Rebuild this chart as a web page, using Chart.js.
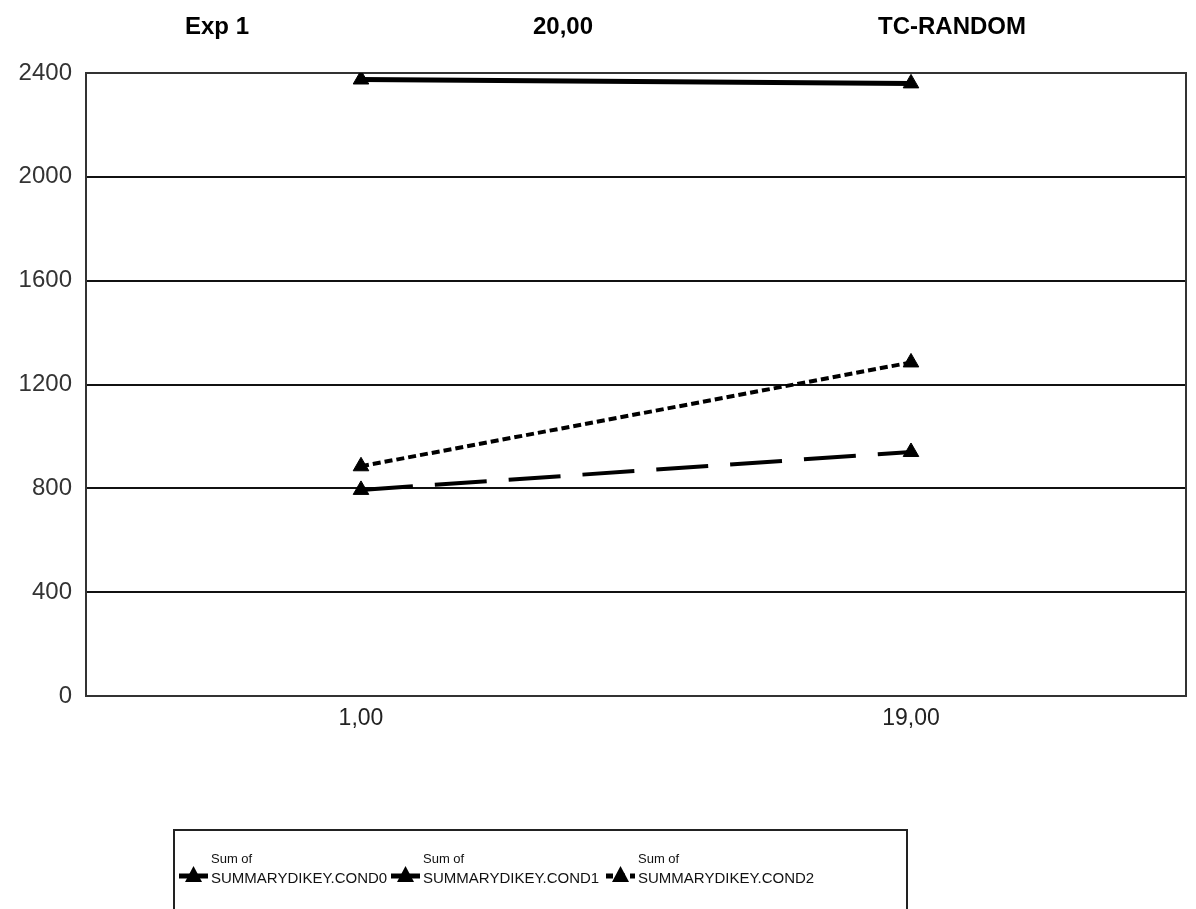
<!DOCTYPE html>
<html lang="en">
<head>
<meta charset="utf-8"/>
<title>Exp 1 - TC-RANDOM</title>
<script src="https://cdn.jsdelivr.net/npm/chart.js"></script>
<style>
  body {
    margin: 0;
    background: #fff;
  }
  canvas {
    display: block;
  }
</style>
</head>
<body>
<canvas id="grafico" width="1196" height="909"></canvas>

<script>
  // dados
  const categorias = ['1,00', '19,00'];
  const cond0 = [2375, 2360];
  const cond1 = [885, 1285];
  const cond2 = [794, 940];
  const nomes = ['SUMMARYDIKEY.COND0', 'SUMMARYDIKEY.COND1', 'SUMMARYDIKEY.COND2'];
  const titulos = ['Exp 1', '20,00', 'TC-RANDOM'];

  const fonte = "'Liberation Sans', Arial, sans-serif";

  // cabeçalho com os três textos em negrito
  const cabecalho = {
    id: 'cabecalho',
    afterDraw(chart) {
      const ctx = chart.ctx;
      const xs = [217, 563, 952];
      ctx.save();
      ctx.font = 'bold 24px ' + fonte;
      ctx.fillStyle = '#000';
      ctx.textAlign = 'center';
      ctx.textBaseline = 'alphabetic';
      titulos.forEach((t, i) => ctx.fillText(t, xs[i], 34));
      ctx.restore();
    }
  };

  // moldura em volta da área do gráfico
  const moldura = {
    id: 'moldura',
    beforeDatasetsDraw(chart) {
      const { ctx, chartArea: a } = chart;
      ctx.save();
      ctx.strokeStyle = '#333';
      ctx.lineWidth = 2;
      ctx.strokeRect(a.left, a.top, a.right - a.left, a.bottom - a.top);
      ctx.restore();
    }
  };

  // legenda desenhada à mão (rótulos em duas linhas)
  const legenda = {
    id: 'legenda',
    afterDraw(chart) {
      const ctx = chart.ctx;
      ctx.save();
      ctx.strokeStyle = '#222';
      ctx.lineWidth = 2;
      ctx.strokeRect(174, 830, 733, 100);

      const xs = [179, 391, 606];
      chart.data.datasets.forEach((ds, i) => {
        const x0 = xs[i];
        const y = 876;
        ctx.strokeStyle = '#000';
        ctx.lineWidth = 5;
        ctx.setLineDash(i === 2 ? [7, 5] : []);
        ctx.beginPath();
        ctx.moveTo(x0, y);
        ctx.lineTo(x0 + 29, y);
        ctx.stroke();
        ctx.setLineDash([]);

        // triângulo
        ctx.fillStyle = '#000';
        ctx.beginPath();
        ctx.moveTo(x0 + 14.5, y - 10);
        ctx.lineTo(x0 + 23, y + 6);
        ctx.lineTo(x0 + 6, y + 6);
        ctx.closePath();
        ctx.fill();

        ctx.fillStyle = '#111';
        ctx.textAlign = 'left';
        ctx.textBaseline = 'alphabetic';
        ctx.font = '13px ' + fonte;
        ctx.fillText('Sum of', x0 + 32, 863);
        ctx.font = '15px ' + fonte;
        ctx.fillText(ds.label, x0 + 32, 883);
      });
      ctx.restore();
    }
  };

  const base = {
    borderColor: '#000',
    backgroundColor: '#000',
    pointStyle: 'triangle',
    pointRadius: 9,
    pointHoverRadius: 9,
    pointBorderWidth: 1,
    tension: 0,
    fill: false
  };

  new Chart(document.getElementById('grafico'), {
    type: 'line',
    data: {
      labels: categorias,
      datasets: [
        { ...base, label: nomes[0], data: cond0, borderWidth: 5 },
        { ...base, label: nomes[1], data: cond1, borderWidth: 4, borderDash: [8, 4] },
        { ...base, label: nomes[2], data: cond2, borderWidth: 4, borderDash: [52, 22] }
      ]
    },
    options: {
      responsive: false,
      animation: false,
      layout: { padding: { top: 73, left: 0, right: 2, bottom: 0 } },
      plugins: {
        legend: { display: false },
        tooltip: { enabled: false }
      },
      scales: {
        x: {
          offset: true,
          grid: { display: false, drawTicks: false },
          border: { display: false },
          ticks: { color: '#222', font: { family: fonte, size: 23 }, padding: 9 },
          afterFit: s => { s.height = 213; }
        },
        y: {
          min: 0,
          max: 2400,
          ticks: {
            stepSize: 400,
            color: '#333',
            font: { family: fonte, size: 24 },
            padding: 14,
            callback: v => String(v)
          },
          grid: { color: '#111', lineWidth: 2, drawTicks: false },
          border: { display: false },
          afterFit: s => { s.width = 86; }
        }
      }
    },
    plugins: [moldura, cabecalho, legenda]
  });
</script>
</body>
</html>
